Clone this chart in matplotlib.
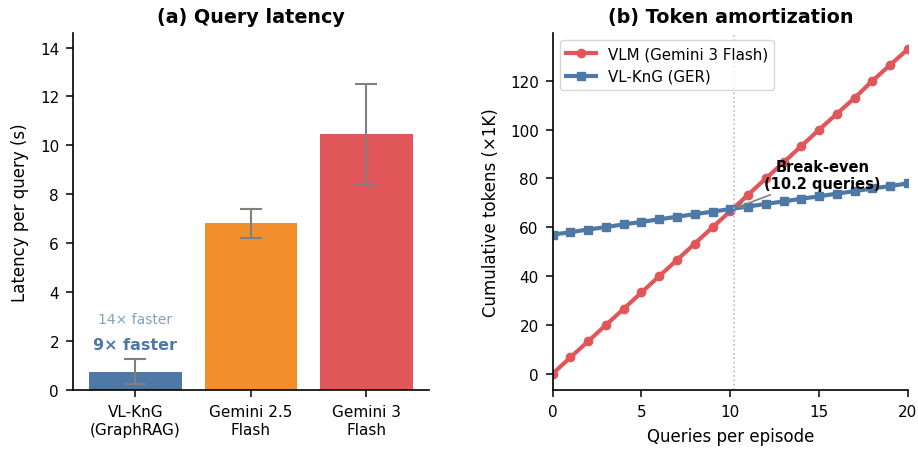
import matplotlib
matplotlib.use("Agg")
import matplotlib.pyplot as plt
import numpy as np

# Panel (a)
methods = ["VL-KnG\n(GraphRAG)", "Gemini 2.5\nFlash", "Gemini 3\nFlash"]
latency = [0.75, 6.82, 10.45]
err_low = [0.50, 0.60, 2.05]
err_high = [0.50, 0.60, 2.05]
bar_colors = ["#4e79a7", "#f28e2b", "#e15759"]

# Panel (b)
queries = list(range(0, 21))
vlm_tokens = [0.0, 6.7, 13.3, 20.0, 26.6, 33.3, 40.0, 46.6, 53.3, 60.0, 66.6,
              73.3, 80.0, 86.6, 93.3, 100.0, 106.5, 113.0, 120.0, 126.5, 133.0]
vlkng_tokens = [57.0, 58.0, 59.1, 60.1, 61.2, 62.2, 63.3, 64.3, 65.4, 66.4, 67.5,
                68.5, 69.6, 70.6, 71.7, 72.7, 73.8, 74.8, 75.9, 76.9, 78.0]
break_even = 10.2

plt.rcParams['font.family'] = ['DejaVu Sans']

fig = plt.figure(figsize=(9.18, 4.52), dpi=100)
ax1 = fig.add_axes([0.0795, 0.135, 0.3875, 0.79])
ax2 = fig.add_axes([0.602, 0.135, 0.387, 0.79])

x = np.arange(len(methods))
ax1.bar(x, latency, width=0.8, color=bar_colors,
        yerr=[err_low, err_high], ecolor="#808080", capsize=8,
        error_kw=dict(elinewidth=1.5, capthick=1.5))
ax1.set_xticks(x)
ax1.set_xticklabels(methods, fontsize=11, linespacing=1.3)
ax1.set_ylim(0, 14.6)
ax1.set_ylabel("Latency per query (s)", fontsize=12, labelpad=8)
ax1.set_title("(a) Query latency", fontsize=13.8, fontweight="bold", pad=8)
ax1.tick_params(axis='both', labelsize=11, length=5, width=1.1, pad=5)
ax1.text(0, 1.85, "9× faster", ha="center", va="center", fontsize=11.5,
         fontweight="bold", color="#4e79a7")
ax1.text(0, 2.9, "14× faster", ha="center", va="center", fontsize=10,
         color="#4e79a7", alpha=0.7)
for s in ["top", "right"]:
    ax1.spines[s].set_visible(False)
for s in ["left", "bottom"]:
    ax1.spines[s].set_linewidth(1.2)

ax2.plot(queries, vlm_tokens, "-o", color="#e15759", lw=3, ms=6,
         label="VLM (Gemini 3 Flash)")
ax2.plot(queries, vlkng_tokens, "-s", color="#4e79a7", lw=3, ms=6,
         label="VL-KnG (GER)")
ax2.axvline(break_even, color="#bbbbbb", ls=":", lw=1.2)
ax2.annotate("Break-even\n(10.2 queries)", xy=(break_even, 67.6),
             xytext=(15.2, 81.5), ha="center", va="center",
             fontsize=10.5, fontweight="bold",
             arrowprops=dict(arrowstyle="->", color="#808080", lw=1.2))
ax2.set_xlim(0, 20)
ax2.set_ylim(-6.65, 139.65)
ax2.set_xticks([0, 5, 10, 15, 20])
ax2.set_yticks([0, 20, 40, 60, 80, 100, 120])
ax2.tick_params(axis='both', labelsize=11, length=5, width=1.1, pad=5)
ax2.set_xlabel("Queries per episode", fontsize=12, labelpad=6)
ax2.set_ylabel("Cumulative tokens (×1K)", fontsize=12, labelpad=7)
ax2.set_title("(b) Token amortization", fontsize=13.8, fontweight="bold", pad=8)
ax2.legend(loc="upper left", fontsize=10.8)
for s in ["top", "right"]:
    ax2.spines[s].set_visible(False)
for s in ["left", "bottom"]:
    ax2.spines[s].set_linewidth(1.2)

fig.savefig("out.png", dpi=100)
